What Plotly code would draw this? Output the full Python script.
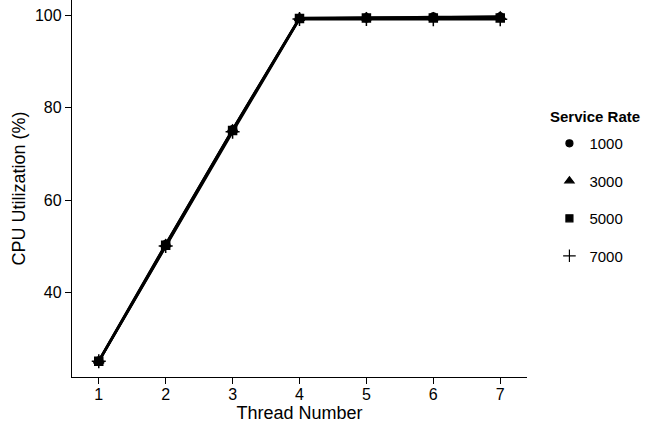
import plotly.graph_objects as go

threads = [1, 2, 3, 4, 5, 6, 7]
rate_labels = ["1000", "3000", "5000", "7000"]
util_1000 = [25.0, 50.3, 75.2, 99.4, 99.5, 99.7, 99.7]
util_3000 = [25.1, 50.4, 75.3, 99.5, 99.6, 99.6, 99.8]
util_5000 = [25.0, 50.2, 75.1, 99.4, 99.5, 99.5, 99.5]
util_7000 = [25.0, 50.0, 74.8, 99.3, 99.3, 99.2, 99.2]
y_ticks = [40, 60, 80, 100]
legend_title = "Service Rate"

series = [util_1000, util_3000, util_5000, util_7000]
symbols = ["circle", "triangle-up", "square", "cross-thin-open"]
sizes = [8, 9, 8, 10]

FONT = "Liberation Sans, Arial, sans-serif"
fig = go.Figure()
for lab, vals, sym, sz in zip(rate_labels, series, symbols, sizes):
    fig.add_trace(go.Scatter(
        x=threads, y=vals, mode="lines+markers", showlegend=False,
        line=dict(color="black", width=2.5),
        marker=dict(symbol=sym, size=sz, color="black", line=dict(color="black", width=1.5)),
    ))
for lab, sym, sz in zip(rate_labels, symbols, sizes):
    fig.add_trace(go.Scatter(
        x=[None], y=[None], mode="markers", name=lab, legendgroup=lab,
        marker=dict(symbol=sym, size=sz - 1, color="black", line=dict(color="black", width=1.2)),
    ))

fig.add_annotation(
    text="<b>" + legend_title + "</b>", xref="paper", yref="paper",
    x=(548 - 72) / 455, y=1 - 117 / 377, xanchor="left", yanchor="middle",
    showarrow=False, font=dict(size=15, family=FONT, color="black"),
)

fig.update_layout(
    width=668, height=425,
    margin=dict(l=72, r=141, t=0, b=48, autoexpand=False),
    paper_bgcolor="white", plot_bgcolor="white",
    font=dict(family=FONT, color="black", size=15),
    legend=dict(
        xref="container", yref="container",
        x=0.8225, y=0.701, xanchor="left", yanchor="top",
        font=dict(size=15), tracegroupgap=15,
        bgcolor="rgba(0,0,0,0)",
    ),
    xaxis=dict(
        range=[0.6, 7.4], tickvals=threads, showgrid=False, zeroline=False,
        showline=True, linecolor="black", linewidth=1.3, automargin=False,
        ticks="outside", ticklen=6, tickwidth=1.3, tickcolor="black",
        tickfont=dict(size=16), ticklabelstandoff=-3,
        title=dict(text="Thread Number", font=dict(size=18), standoff=0),
    ),
    yaxis=dict(
        range=[21.6, 103.4], tickvals=y_ticks, showgrid=False, zeroline=False,
        showline=True, linecolor="black", linewidth=1.3, automargin=False,
        ticks="outside", ticklen=6, tickwidth=1.3, tickcolor="black",
        tickfont=dict(size=16),
        title=dict(text="CPU Utilization (%)", font=dict(size=18), standoff=4),
    ),
)
fig.write_html("out.html", config={"displayModeBar": False},
               post_script="document.body.style.margin='0';document.body.style.padding='0';")
